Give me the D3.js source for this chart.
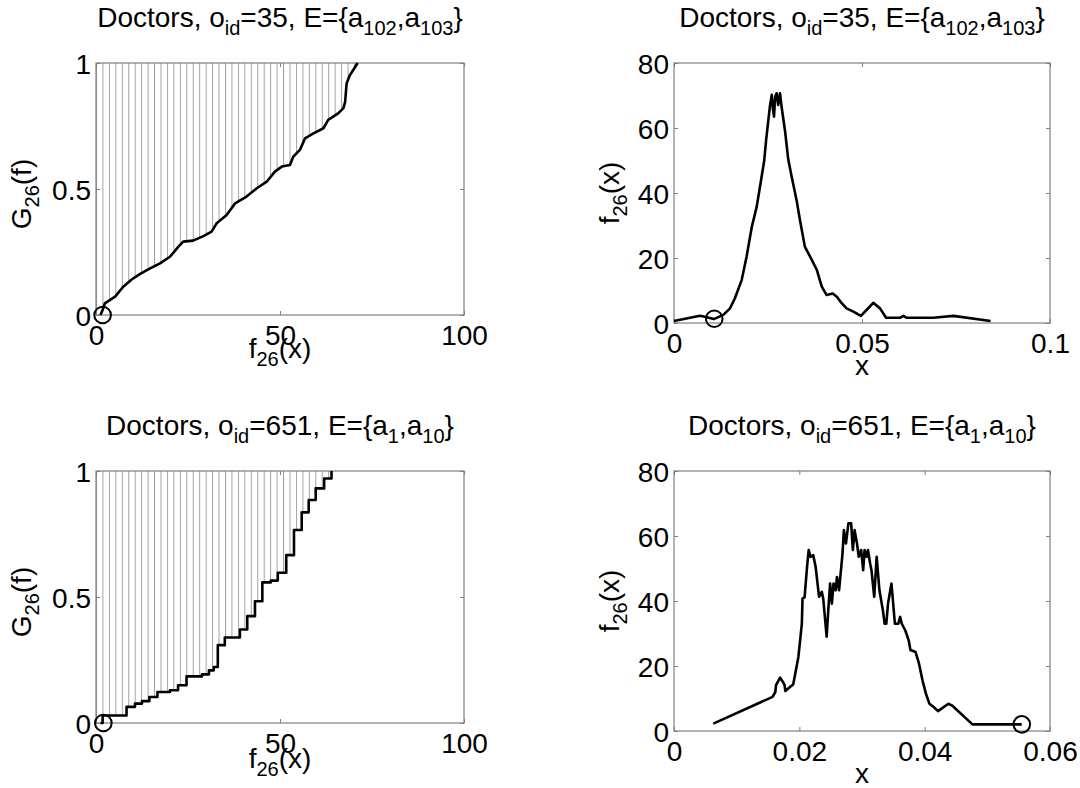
<!DOCTYPE html>
<html>
<head>
<meta charset="utf-8">
<script src="https://cdn.jsdelivr.net/npm/d3@7"></script>
<style>
  html, body { margin: 0; padding: 0; background: #fff; }
  svg { display: block; }
  text { font-family: "Liberation Sans", Arial, Helvetica, sans-serif; fill: #000; }
</style>
</head>
<body>
<svg id="chart" width="1080" height="788"></svg>
<script>
// ---------------- DATA ----------------
// Top-left: G_26(f) for o_id=35
const g1X = [1.2, 1.8, 2.4, 5.2, 7.4, 9.7, 12, 14.7, 17.4, 20.1, 22.4, 23.7, 26.4, 29.2, 31.4, 32.8, 35.5, 37.8, 40.9, 43.7, 46.4, 48.6, 50.5, 52.7, 53.6, 55.4, 56.8, 59.1, 61.8, 63.1, 65.8, 67.2, 67.7, 68.1, 69, 69.9, 71.1];
const g1Y = [0, 0.02, 0.046, 0.073, 0.112, 0.141, 0.163, 0.185, 0.205, 0.231, 0.271, 0.291, 0.295, 0.313, 0.331, 0.364, 0.397, 0.443, 0.47, 0.503, 0.529, 0.569, 0.589, 0.595, 0.628, 0.655, 0.701, 0.721, 0.741, 0.774, 0.8, 0.82, 0.846, 0.919, 0.952, 0.972, 1.0];

// Top-right: f_26(x) for o_id=35
const f1X = [0, 0.0069, 0.0082, 0.0106, 0.0131, 0.0149, 0.0162, 0.018, 0.0193, 0.0207, 0.022, 0.0233, 0.024, 0.0245, 0.0255, 0.026, 0.0263, 0.0266, 0.0269, 0.0273, 0.0277, 0.0282, 0.0286, 0.0295, 0.0304, 0.0313, 0.0326, 0.0335, 0.0348, 0.0362, 0.038, 0.0393, 0.0406, 0.0422, 0.0433, 0.0446, 0.0459, 0.0477, 0.0497, 0.0512, 0.053, 0.0548, 0.0564, 0.0601, 0.061, 0.0619, 0.069, 0.0743, 0.0842];
const f1Y = [0.6, 2.2, 1.9, 1.2, 2.5, 4.5, 7.6, 13.2, 20.4, 29.6, 35.8, 45, 50, 56.3, 66.6, 70.2, 66, 63.5, 69.6, 70.7, 67.1, 70.7, 66.6, 59.4, 50.2, 45, 37.8, 31.7, 23.5, 20.4, 16.3, 11.2, 8.6, 9.1, 8.1, 6.1, 4.5, 3.5, 2.2, 4, 6.2, 4.5, 1.6, 1.6, 2.2, 1.6, 1.6, 2.2, 0.6];

// Bottom-left: G_26(f) for o_id=651 (staircase)
const g2X = [1.2, 1.8, 8.3, 10.6, 12.5, 14.5, 16.7, 20.1, 22.3, 24.6, 28.8, 30.7, 32.0, 33.1, 35.0, 39.1, 41.1, 43.2, 45.2, 47.5, 49.4, 51.7, 53.8, 55.9, 57.8, 59.7, 62.0, 64.0];
const g2Y = [0, 0.03, 0.064, 0.077, 0.087, 0.103, 0.123, 0.13, 0.15, 0.185, 0.193, 0.209, 0.222, 0.309, 0.339, 0.371, 0.424, 0.483, 0.558, 0.565, 0.596, 0.666, 0.766, 0.836, 0.885, 0.931, 0.97, 1.0];

// Bottom-right: f_26(x) for o_id=651
const f2X = [0.00627, 0.01573, 0.01617, 0.01628, 0.01694, 0.01738, 0.01765, 0.01776, 0.01903, 0.01985, 0.0204, 0.02051, 0.02084, 0.02123, 0.0215, 0.02178, 0.02222, 0.0226, 0.02315, 0.02359, 0.02381, 0.02436, 0.02469, 0.02491, 0.02519, 0.02546, 0.02579, 0.02601, 0.02634, 0.02689, 0.02711, 0.02744, 0.02783, 0.02827, 0.02854, 0.02882, 0.0292, 0.02948, 0.02986, 0.03019, 0.03041, 0.03074, 0.03096, 0.03129, 0.03151, 0.03195, 0.03234, 0.03278, 0.03333, 0.03361, 0.03388, 0.03415, 0.0347, 0.03525, 0.0358, 0.03608, 0.03635, 0.0369, 0.03745, 0.03773, 0.03855, 0.0391, 0.03965, 0.0402, 0.04075, 0.0413, 0.04213, 0.04378, 0.04433, 0.04763, 0.05549];
const f2Y = [2.26, 10.5, 12, 14.1, 16.4, 15.1, 14.1, 12.3, 14.4, 22.8, 33, 40.8, 41.1, 50.5, 55.7, 53.6, 54.1, 50.5, 41.3, 42.8, 40.8, 29, 39.2, 45.4, 39.2, 45.4, 43.3, 47.4, 43.3, 54.6, 61.8, 57.7, 63.9, 63.9, 55.7, 61.8, 57.7, 53.6, 55.7, 49.5, 55.7, 53.6, 55.7, 51.6, 49.5, 41.3, 53.6, 43.3, 37.2, 33, 33, 39.2, 45.4, 33, 33, 35.1, 33, 31, 27.9, 24.9, 24.3, 20.7, 15.6, 11.5, 8.4, 7.6, 6.1, 8.4, 7.9, 2.05, 2.05];

// Circle markers [x, y]
const marker1 = [1.8, 0];
const marker2 = [0.0107, 1.3];
const marker3 = [2.0, 0];
const marker4 = [0.0555, 2.05];

// Axis domains and ticks
const gDomainX = [0, 100], gDomainY = [0, 1];
const gTicksX = [0, 50, 100], gTickLabelsX = ["0", "50", "100"];
const gTicksY = [0, 0.5, 1], gTickLabelsY = ["0", "0.5", "1"];
const f1DomainX = [0, 0.1], fDomainY = [0, 80];
const f1TicksX = [0, 0.05, 0.1], f1TickLabelsX = ["0", "0.05", "0.1"];
const f2DomainX = [0, 0.06];
const f2TicksX = [0, 0.02, 0.04, 0.06], f2TickLabelsX = ["0", "0.02", "0.04", "0.06"];
const fTicksY = [0, 20, 40, 60, 80], fTickLabelsY = ["0", "20", "40", "60", "80"];

// Titles as [text, isSubscript] pieces
const title1 = [["Doctors, o", false], ["id", true], ["=35, E={a", false], ["102", true], [",a", false], ["103", true], ["}", false]];
const title2 = [["Doctors, o", false], ["id", true], ["=651, E={a", false], ["1", true], [",a", false], ["10", true], ["}", false]];
const labelG = [["G", false], ["26", true], ["(f)", false]];
const labelF = [["f", false], ["26", true], ["(x)", false]];
const labelX = [["x", false]];

// ---------------- DRAWING ----------------
const svg = d3.select("#chart");
const defs = svg.append("defs");
const BOX = "#7f7f7f";
const FS = 28, SUB = 20, SHIFT = 8;

function richText(sel, pieces, size, subSize, shift) {
  let prevSub = false;
  pieces.forEach(([t, sub]) => {
    const ts = sel.append("tspan").text(t).attr("font-size", sub ? subSize : size);
    if (sub && !prevSub) ts.attr("dy", shift);
    if (!sub && prevSub) ts.attr("dy", -shift);
    prevSub = sub;
  });
}

function panel(cfg) {
  const x = d3.scaleLinear().domain(cfg.domX).range([cfg.left, cfg.right]);
  const y = d3.scaleLinear().domain(cfg.domY).range([cfg.bottom, cfg.top]);
  const g = svg.append("g");
  const pts = cfg.xs.map((v, i) => [v, cfg.ys[i]]);

  // hatch region
  if (cfg.hatch) {
    const pid = "hatch" + cfg.id;
    const pat = defs.append("pattern").attr("id", pid)
      .attr("patternUnits", "userSpaceOnUse")
      .attr("x", cfg.left).attr("y", 0).attr("width", 6.45).attr("height", 20);
    pat.append("line").attr("x1", 0.5).attr("x2", 0.5).attr("y1", 0).attr("y2", 20)
      .attr("stroke", "#a0a0a0").attr("stroke-width", 1);
    const areaPts = [[cfg.domX[0], cfg.ys[0]]].concat(pts);
    const area = d3.area().x(d => x(d[0])).y0(y(cfg.domY[1])).y1(d => y(d[1]))
      .curve(cfg.curve);
    g.append("path").attr("d", area(areaPts)).attr("fill", `url(#${pid})`).attr("stroke", "none");
  }

  // box
  g.append("rect").attr("x", cfg.left).attr("y", cfg.top)
    .attr("width", cfg.right - cfg.left).attr("height", cfg.bottom - cfg.top)
    .attr("fill", "none").attr("stroke", BOX).attr("stroke-width", 1.2);

  // axes
  const ax = g.append("g").attr("transform", `translate(0,${cfg.bottom})`)
    .call(d3.axisBottom(x).tickValues(cfg.ticksX).tickSize(-4).tickPadding(10)
      .tickFormat((d, i) => cfg.labelsX[i]));
  const axT = g.append("g").attr("transform", `translate(0,${cfg.top})`)
    .call(d3.axisTop(x).tickValues(cfg.ticksX).tickSize(-4).tickFormat(""));
  const ay = g.append("g").attr("transform", `translate(${cfg.left},0)`)
    .call(d3.axisLeft(y).tickValues(cfg.ticksY).tickSize(-4).tickPadding(5)
      .tickFormat((d, i) => cfg.labelsY[i]));
  const ayR = g.append("g").attr("transform", `translate(${cfg.right},0)`)
    .call(d3.axisRight(y).tickValues(cfg.ticksY).tickSize(-4).tickFormat(""));
  [ax, axT, ay, ayR].forEach(a => {
    a.select(".domain").remove();
    a.selectAll(".tick line").attr("stroke", BOX).attr("stroke-width", 1);
    a.selectAll("text").attr("font-size", FS).attr("fill", "#000")
      .attr("font-family", "Liberation Sans, Arial, sans-serif");
  });
  ay.selectAll("text").attr("dy", "0.36em");

  // line
  const line = d3.line().x(d => x(d[0])).y(d => y(d[1])).curve(cfg.curve);
  g.append("path").attr("d", line(pts)).attr("fill", "none")
    .attr("stroke", "#000").attr("stroke-width", 2.6).attr("stroke-linejoin", "round");

  // marker
  g.append("circle").attr("cx", x(cfg.marker[0])).attr("cy", y(cfg.marker[1])).attr("r", 8.3)
    .attr("fill", "none").attr("stroke", "#000").attr("stroke-width", 2);

  // title
  const tt = g.append("text").attr("x", (cfg.left + cfg.right) / 2).attr("y", cfg.top - 36)
    .attr("text-anchor", "middle");
  richText(tt, cfg.title, FS, SUB, SHIFT);

  // x label
  const xl = g.append("text").attr("x", (cfg.left + cfg.right) / 2).attr("y", cfg.bottom + cfg.xlabOff)
    .attr("text-anchor", "middle");
  richText(xl, cfg.xlab, FS, SUB, SHIFT);

  // y label
  const cy = (cfg.top + cfg.bottom) / 2 + cfg.ylabDy;
  const yl = g.append("text").attr("transform", `translate(${cfg.ylabX},${cy}) rotate(-90)`)
    .attr("text-anchor", "middle");
  richText(yl, cfg.ylab, FS, SUB, SHIFT);
}

panel({ id: 1, left: 96, right: 464, top: 63, bottom: 315, domX: gDomainX, domY: gDomainY,
  xs: g1X, ys: g1Y, curve: d3.curveLinear, hatch: true, marker: marker1,
  ticksX: gTicksX, labelsX: gTickLabelsX, ticksY: gTicksY, labelsY: gTickLabelsY,
  title: title1, xlab: labelF, xlabOff: 43, ylab: labelG, ylabX: 31, ylabDy: 5 });

panel({ id: 2, left: 674, right: 1050, top: 63, bottom: 323, domX: f1DomainX, domY: fDomainY,
  xs: f1X, ys: f1Y, curve: d3.curveLinear, hatch: false, marker: marker2,
  ticksX: f1TicksX, labelsX: f1TickLabelsX, ticksY: fTicksY, labelsY: fTickLabelsY,
  title: title1, xlab: labelX, xlabOff: 52, ylab: labelF, ylabX: 619, ylabDy: 0 });

panel({ id: 3, left: 96, right: 464, top: 471, bottom: 723, domX: gDomainX, domY: gDomainY,
  xs: g2X, ys: g2Y, curve: d3.curveStepAfter, hatch: true, marker: marker3,
  ticksX: gTicksX, labelsX: gTickLabelsX, ticksY: gTicksY, labelsY: gTickLabelsY,
  title: title2, xlab: labelF, xlabOff: 45, ylab: labelG, ylabX: 31, ylabDy: 5 });

panel({ id: 4, left: 674, right: 1050, top: 471, bottom: 731, domX: f2DomainX, domY: fDomainY,
  xs: f2X, ys: f2Y, curve: d3.curveLinear, hatch: false, marker: marker4,
  ticksX: f2TicksX, labelsX: f2TickLabelsX, ticksY: fTicksY, labelsY: fTickLabelsY,
  title: title2, xlab: labelX, xlabOff: 52, ylab: labelF, ylabX: 619, ylabDy: 0 });
</script>
</body>
</html>
